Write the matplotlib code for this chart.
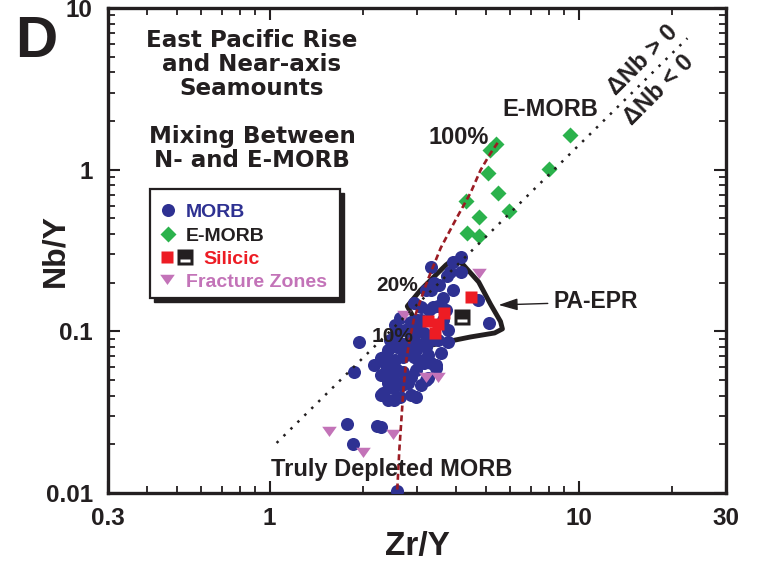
import matplotlib
matplotlib.use('Agg')
import matplotlib.pyplot as plt
import matplotlib.ticker as mticker
from matplotlib.patches import Rectangle, Polygon
from matplotlib.path import Path

# ---------------- data ----------------
morb_x = [3.32, 3.91, 4.15, 3.85, 4.15, 3.74, 3.32, 4.71, 5.12, 3.40,
          3.08, 3.27, 3.50, 2.93, 3.01, 2.65, 3.08, 3.15, 3.77, 3.58,
          3.15, 2.93, 2.65, 2.41, 2.93, 3.32, 3.45, 2.59, 2.86, 2.41,
          2.69, 2.97, 2.41, 2.29, 1.94, 1.87, 2.29, 1.775, 1.86, 2.23,
          2.59, 2.34, 2.46, 2.41, 2.32, 2.61, 2.71, 3.03, 3.25, 2.65,
          3.45, 3.15, 3.20, 2.52, 2.81, 2.71, 2.52, 3.25, 2.79, 2.59,
          3.08, 3.37, 2.75, 2.55, 2.86, 2.46, 3.20, 3.63, 3.77, 3.32,
          2.29, 2.38, 2.97, 2.55, 2.75, 2.97, 3.20, 3.50, 3.63, 3.03,
          2.81, 2.55, 3.08, 2.50, 2.29, 2.17, 2.86, 3.72, 3.91, 3.53]
morb_y = [0.250, 0.268, 0.289, 0.233, 0.233, 0.220, 0.180, 0.156, 0.113, 0.199,
          0.141, 0.136, 0.143, 0.150, 0.118, 0.121, 0.118, 0.098, 0.086, 0.0735,
          0.0824, 0.0885, 0.0848, 0.0767, 0.0694, 0.0637, 0.0594, 0.0577, 0.0522, 0.050,
          0.0466, 0.0393, 0.0377, 0.0256, 0.0860, 0.0561, 0.0684, 0.0267, 0.0201, 0.0260,
          0.01035, 0.0694, 0.0577, 0.0479, 0.0416, 0.0479, 0.0694, 0.0665, 0.0714, 0.0393,
          0.0619, 0.0637, 0.050, 0.0377, 0.0479, 0.0561, 0.0553, 0.0515, 0.0848, 0.0801,
          0.0824, 0.141, 0.102, 0.095, 0.115, 0.0885, 0.180, 0.161, 0.102, 0.0885,
          0.0404, 0.0619, 0.0577, 0.0665, 0.0745, 0.0767, 0.0801, 0.0885, 0.118, 0.102,
          0.102, 0.1095, 0.0466, 0.0447, 0.0537, 0.0619, 0.0404, 0.136, 0.180, 0.194]

emorb_x = [5.39, 5.15, 9.35, 5.11, 8.0, 5.47, 4.31, 5.94, 4.75, 4.37, 4.75]
emorb_y = [1.44, 1.32, 1.64, 0.954, 1.01, 0.718, 0.640, 0.555, 0.51, 0.406, 0.389]

silicic_x = [4.47, 3.66, 3.25, 3.50, 3.44]
silicic_y = [0.163, 0.130, 0.116, 0.111, 0.0977]
silicic2_x = [4.21]
silicic2_y = [0.123]

fz_x = [4.75, 2.72, 3.20, 3.50, 1.56, 2.00, 2.50]
fz_y = [0.230, 0.126, 0.0522, 0.0522, 0.0242, 0.0179, 0.0232]

mix_x = [2.59, 2.63, 2.67, 2.71, 2.77, 2.84, 2.93, 3.08, 3.27, 3.58, 4.00, 4.47, 4.82, 5.19, 5.47]
mix_y = [0.0105, 0.0185, 0.0283, 0.0434, 0.0665, 0.0885, 0.118, 0.156, 0.214, 0.328,
         0.489, 0.718, 0.996, 1.265, 1.466]

dnb_x = [1.054, 22.5]
dnb_y = [0.0204, 6.5]

paepr_x = [2.79, 3.08, 3.72, 3.94, 4.21, 4.75, 5.19, 5.59, 5.67, 5.35, 4.47, 3.72, 3.37, 3.08]
paepr_y = [0.143, 0.180, 0.257, 0.280, 0.261, 0.202, 0.147, 0.115, 0.1035, 0.0977,
           0.0923, 0.086, 0.0824, 0.102]

x_ticks = [0.3, 1, 10, 30]
x_tick_labels = ['0.3', '1', '10', '30']
y_ticks = [0.01, 0.1, 1, 10]
y_tick_labels = ['0.01', '0.1', '1', '10']

# ---------------- style ----------------
plt.rcParams['font.family'] = ['Liberation Sans', 'DejaVu Sans']
plt.rcParams['font.weight'] = 'bold'
INK = '#231f20'
BLUE = '#2e3192'
GREEN = '#2bb24c'
RED = '#ed1c24'
PINK = '#c373b8'
DASHRED = '#9b1c24'
TITLEFONT = ['DejaVu Sans']

tri_marker = [(-1, 0.65), (1, 0.65), (0, -0.75), (-1, 0.65)]
outer = [(-1, -1), (1, -1), (1, 1), (-1, 1), (-1, -1)]
inner = [(-0.6, -0.62), (-0.6, -0.2), (0.6, -0.2), (0.6, -0.62), (-0.6, -0.62)]
codes = [Path.MOVETO, Path.LINETO, Path.LINETO, Path.LINETO, Path.CLOSEPOLY] * 2
sil_marker = Path(outer + inner, codes)

fig = plt.figure(figsize=(7.59, 5.61), dpi=100)
ax = fig.add_axes([108 / 759, 68 / 561, 618 / 759, 485 / 561])
ax.set_xscale('log')
ax.set_yscale('log')
ax.set_xlim(0.3, 30)
ax.set_ylim(0.01, 10)

# field
ax.add_patch(Polygon(list(zip(paepr_x, paepr_y)), closed=True, fill=False,
                     edgecolor=INK, lw=3.5, joinstyle='round', zorder=2))

ax.plot(morb_x, morb_y, 'o', ms=9.4, color=BLUE, mec='none', zorder=3)
ax.plot(emorb_x, emorb_y, 'D', ms=8.6, color=GREEN, mec='none', zorder=3)
ax.plot(silicic_x, silicic_y, 's', ms=8.8, color=RED, mec='none', zorder=4)
ax.plot(silicic2_x, silicic2_y, 's', ms=10, color='white', mec='none', zorder=4)
ax.plot(silicic2_x, silicic2_y, marker=sil_marker, ms=11, color=INK, mec='none',
        ls='none', zorder=4)
ax.plot(fz_x, fz_y, marker=tri_marker, ms=10.5, color=PINK, mec='none', ls='none', zorder=4)

ax.plot(dnb_x, dnb_y, color=INK, lw=1.8, ls=(0, (1, 2.9)), zorder=5)
ax.plot(mix_x, mix_y, color=DASHRED, lw=1.9, ls=(0, (2.3, 1.4)), zorder=5)

# axes styling
for s in ax.spines.values():
    s.set_linewidth(2.4)
    s.set_color(INK)
ax.xaxis.set_major_locator(mticker.FixedLocator(x_ticks))
ax.xaxis.set_major_formatter(mticker.FixedFormatter(x_tick_labels))
ax.yaxis.set_major_locator(mticker.FixedLocator(y_ticks))
ax.yaxis.set_major_formatter(mticker.FixedFormatter(y_tick_labels))
ax.xaxis.set_minor_locator(mticker.LogLocator(base=10, subs=range(2, 10)))
ax.yaxis.set_minor_locator(mticker.LogLocator(base=10, subs=range(2, 10)))
ax.xaxis.set_minor_formatter(mticker.NullFormatter())
ax.yaxis.set_minor_formatter(mticker.NullFormatter())
ax.tick_params(which='both', direction='in', top=True, right=True, color=INK)
ax.tick_params(which='major', length=8.5, width=1.5, labelsize=17.5, labelcolor=INK)
ax.tick_params(which='minor', length=4.8, width=1.3)
ax.tick_params(axis='x', which='major', pad=10)
ax.tick_params(axis='y', which='major', pad=11)

ax.set_xlabel('Zr/Y', fontsize=24, fontweight='bold', color=INK)
ax.xaxis.set_label_coords(0.5, (493 - 555) / 485)
ax.xaxis.label.set_va('baseline')
ax.set_ylabel('Nb/Y', fontsize=23, fontweight='bold', color=INK)
ax.yaxis.set_label_coords((63 - 108) / 618, 0.5)
ax.yaxis.label.set_va('baseline')
ax.yaxis.label.set_rotation_mode('anchor')

fig.text(15 / 759, 1 - 57 / 561, 'D', fontsize=42, fontweight='bold', color=INK,
         ha='left', va='baseline')

# title block
for txt, py in [('East Pacific Rise', 47), ('and Near-axis', 71), ('Seamounts', 95),
                ('Mixing Between', 143), ('N- and E-MORB', 167)]:
    ax.text((252 - 108) / 618, (493 - py) / 485, txt, transform=ax.transAxes,
            ha='center', va='baseline', fontsize=16.6, fontweight='bold',
            family=TITLEFONT, color=INK)

# annotations
ax.text(4.09, 1.59, '100%', fontsize=17, ha='center', va='center', color=INK, zorder=6)
ax.text(8.12, 2.37, 'E-MORB', fontsize=17, ha='center', va='center', color=INK, zorder=6)
ax.text(2.595, 0.191, '20%', fontsize=15, ha='center', va='center', color=INK, zorder=6)
ax.text(2.50, 0.0923, '10%', fontsize=15, ha='center', va='center', color=INK, zorder=6)
ax.text(2.48, 0.0139, 'Truly Depleted MORB', fontsize=17, ha='center', va='center',
        color=INK, zorder=6)
ax.text(16.1, 4.77, 'ΔNb > 0', fontsize=17, ha='center', va='center', rotation=45,
        rotation_mode='anchor', color=INK, zorder=6)
ax.text(18.15, 3.11, 'ΔNb < 0', fontsize=17, ha='center', va='center', rotation=45,
        rotation_mode='anchor', color=INK, zorder=6)
ax.annotate('PA-EPR', xy=(5.51, 0.1456), xytext=(11.35, 0.152), fontsize=16.5,
            ha='center', va='center', color=INK, zorder=6,
            arrowprops=dict(arrowstyle='-|>,head_length=0.7,head_width=0.22',
                            lw=1.0, color=INK, shrinkA=2, shrinkB=0))

# legend (manual)
def axx(px):
    return (px - 108) / 618


def axy(py):
    return (493 - py) / 485


bx0, bx1, by0, by1 = axx(150), axx(340), axy(298), axy(189)
ax.add_patch(Rectangle((bx0 + 4 / 618, by0 - 4 / 485), bx1 - bx0, by1 - by0,
                       transform=ax.transAxes, facecolor=INK, edgecolor=INK,
                       lw=1, zorder=7, clip_on=False))
ax.add_patch(Rectangle((bx0, by0), bx1 - bx0, by1 - by0, transform=ax.transAxes,
                       facecolor='white', edgecolor=INK, lw=1.6, zorder=8,
                       clip_on=False))
kw = dict(transform=ax.transAxes, zorder=9, clip_on=False, ls='none')
ax.plot([axx(168)], [axy(210)], 'o', ms=9.4, color=BLUE, mec='none', **kw)
ax.plot([axx(168)], [axy(234)], 'D', ms=8.6, color=GREEN, mec='none', **kw)
ax.plot([axx(167)], [axy(257)], 's', ms=8.8, color=RED, mec='none', **kw)
ax.plot([axx(185)], [axy(257)], 's', ms=10, color='white', mec='none', **kw)
ax.plot([axx(185)], [axy(257)], marker=sil_marker, ms=11, color=INK, mec='none', **kw)
ax.plot([axx(167)], [axy(279)], marker=tri_marker, ms=10.5, color=PINK, mec='none', **kw)
for txt, px, py, c in [('MORB', 186, 216.7, BLUE), ('E-MORB', 186, 240.7, INK),
                       ('Silicic', 203, 264, RED), ('Fracture Zones', 186, 287, PINK)]:
    ax.text(axx(px), axy(py), txt, transform=ax.transAxes, fontsize=14,
            fontweight='bold', color=c, ha='left', va='baseline', zorder=9)

fig.savefig('out.png', dpi=100)
